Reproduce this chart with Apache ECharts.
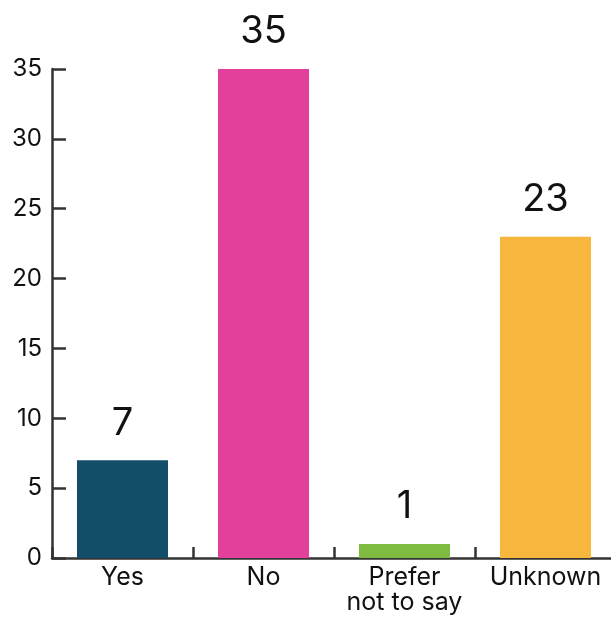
<!DOCTYPE html>
<html>
<head>
<meta charset="utf-8">
<script src="https://cdn.jsdelivr.net/npm/echarts@6/dist/echarts.min.js"></script>
<style>
  html, body { margin: 0; padding: 0; background: #ffffff; }
  #chart { width: 611px; height: 621px; }
</style>
</head>
<body>
<div id="chart"></div>
<script>
// Responses per category
const categories = ['Yes', 'No', 'Prefer\nnot to say', 'Unknown'];
const counts = [7, 35, 1, 23];
const barColors = ['#124e6a', '#e2409a', '#80bb41', '#f6b73c'];
const yTicks = [0, 5, 10, 15, 20, 25, 30, 35];

const axisColor = '#333333';
const font = 'Inter, "Liberation Sans", sans-serif';

const chart = echarts.init(document.getElementById('chart'), null, { renderer: 'canvas' });

chart.setOption({
  animation: false,
  grid: { left: 52, top: 69, width: 564, bottom: 63, containLabel: false, outerBoundsMode: 'none' },
  xAxis: {
    type: 'category',
    data: categories,
    axisLine: { show: true, lineStyle: { color: axisColor, width: 2.5 } },
    axisTick: { show: true, inside: true, length: 11, lineStyle: { color: axisColor, width: 2.5 } },
    axisLabel: { color: '#111111', fontFamily: font, fontSize: 25, lineHeight: 25, margin: 7, interval: 0 }
  },
  yAxis: {
    type: 'value',
    min: yTicks[0],
    max: yTicks[yTicks.length - 1],
    interval: 5,
    splitLine: { show: false },
    axisLine: { show: true, lineStyle: { color: axisColor, width: 2.5 } },
    axisTick: { show: true, inside: true, length: 14, lineStyle: { color: axisColor, width: 2.5 } },
    axisLabel: { color: '#111111', fontFamily: font, fontSize: 24, margin: 10 }
  },
  series: [{
    type: 'bar',
    barWidth: 91,
    data: counts.map((v, i) => ({ value: v, itemStyle: { color: barColors[i] } })),
    label: {
      show: true,
      position: 'top',
      distance: 18,
      color: '#111111',
      fontFamily: font,
      fontSize: 38
    }
  }]
});
</script>
</body>
</html>
